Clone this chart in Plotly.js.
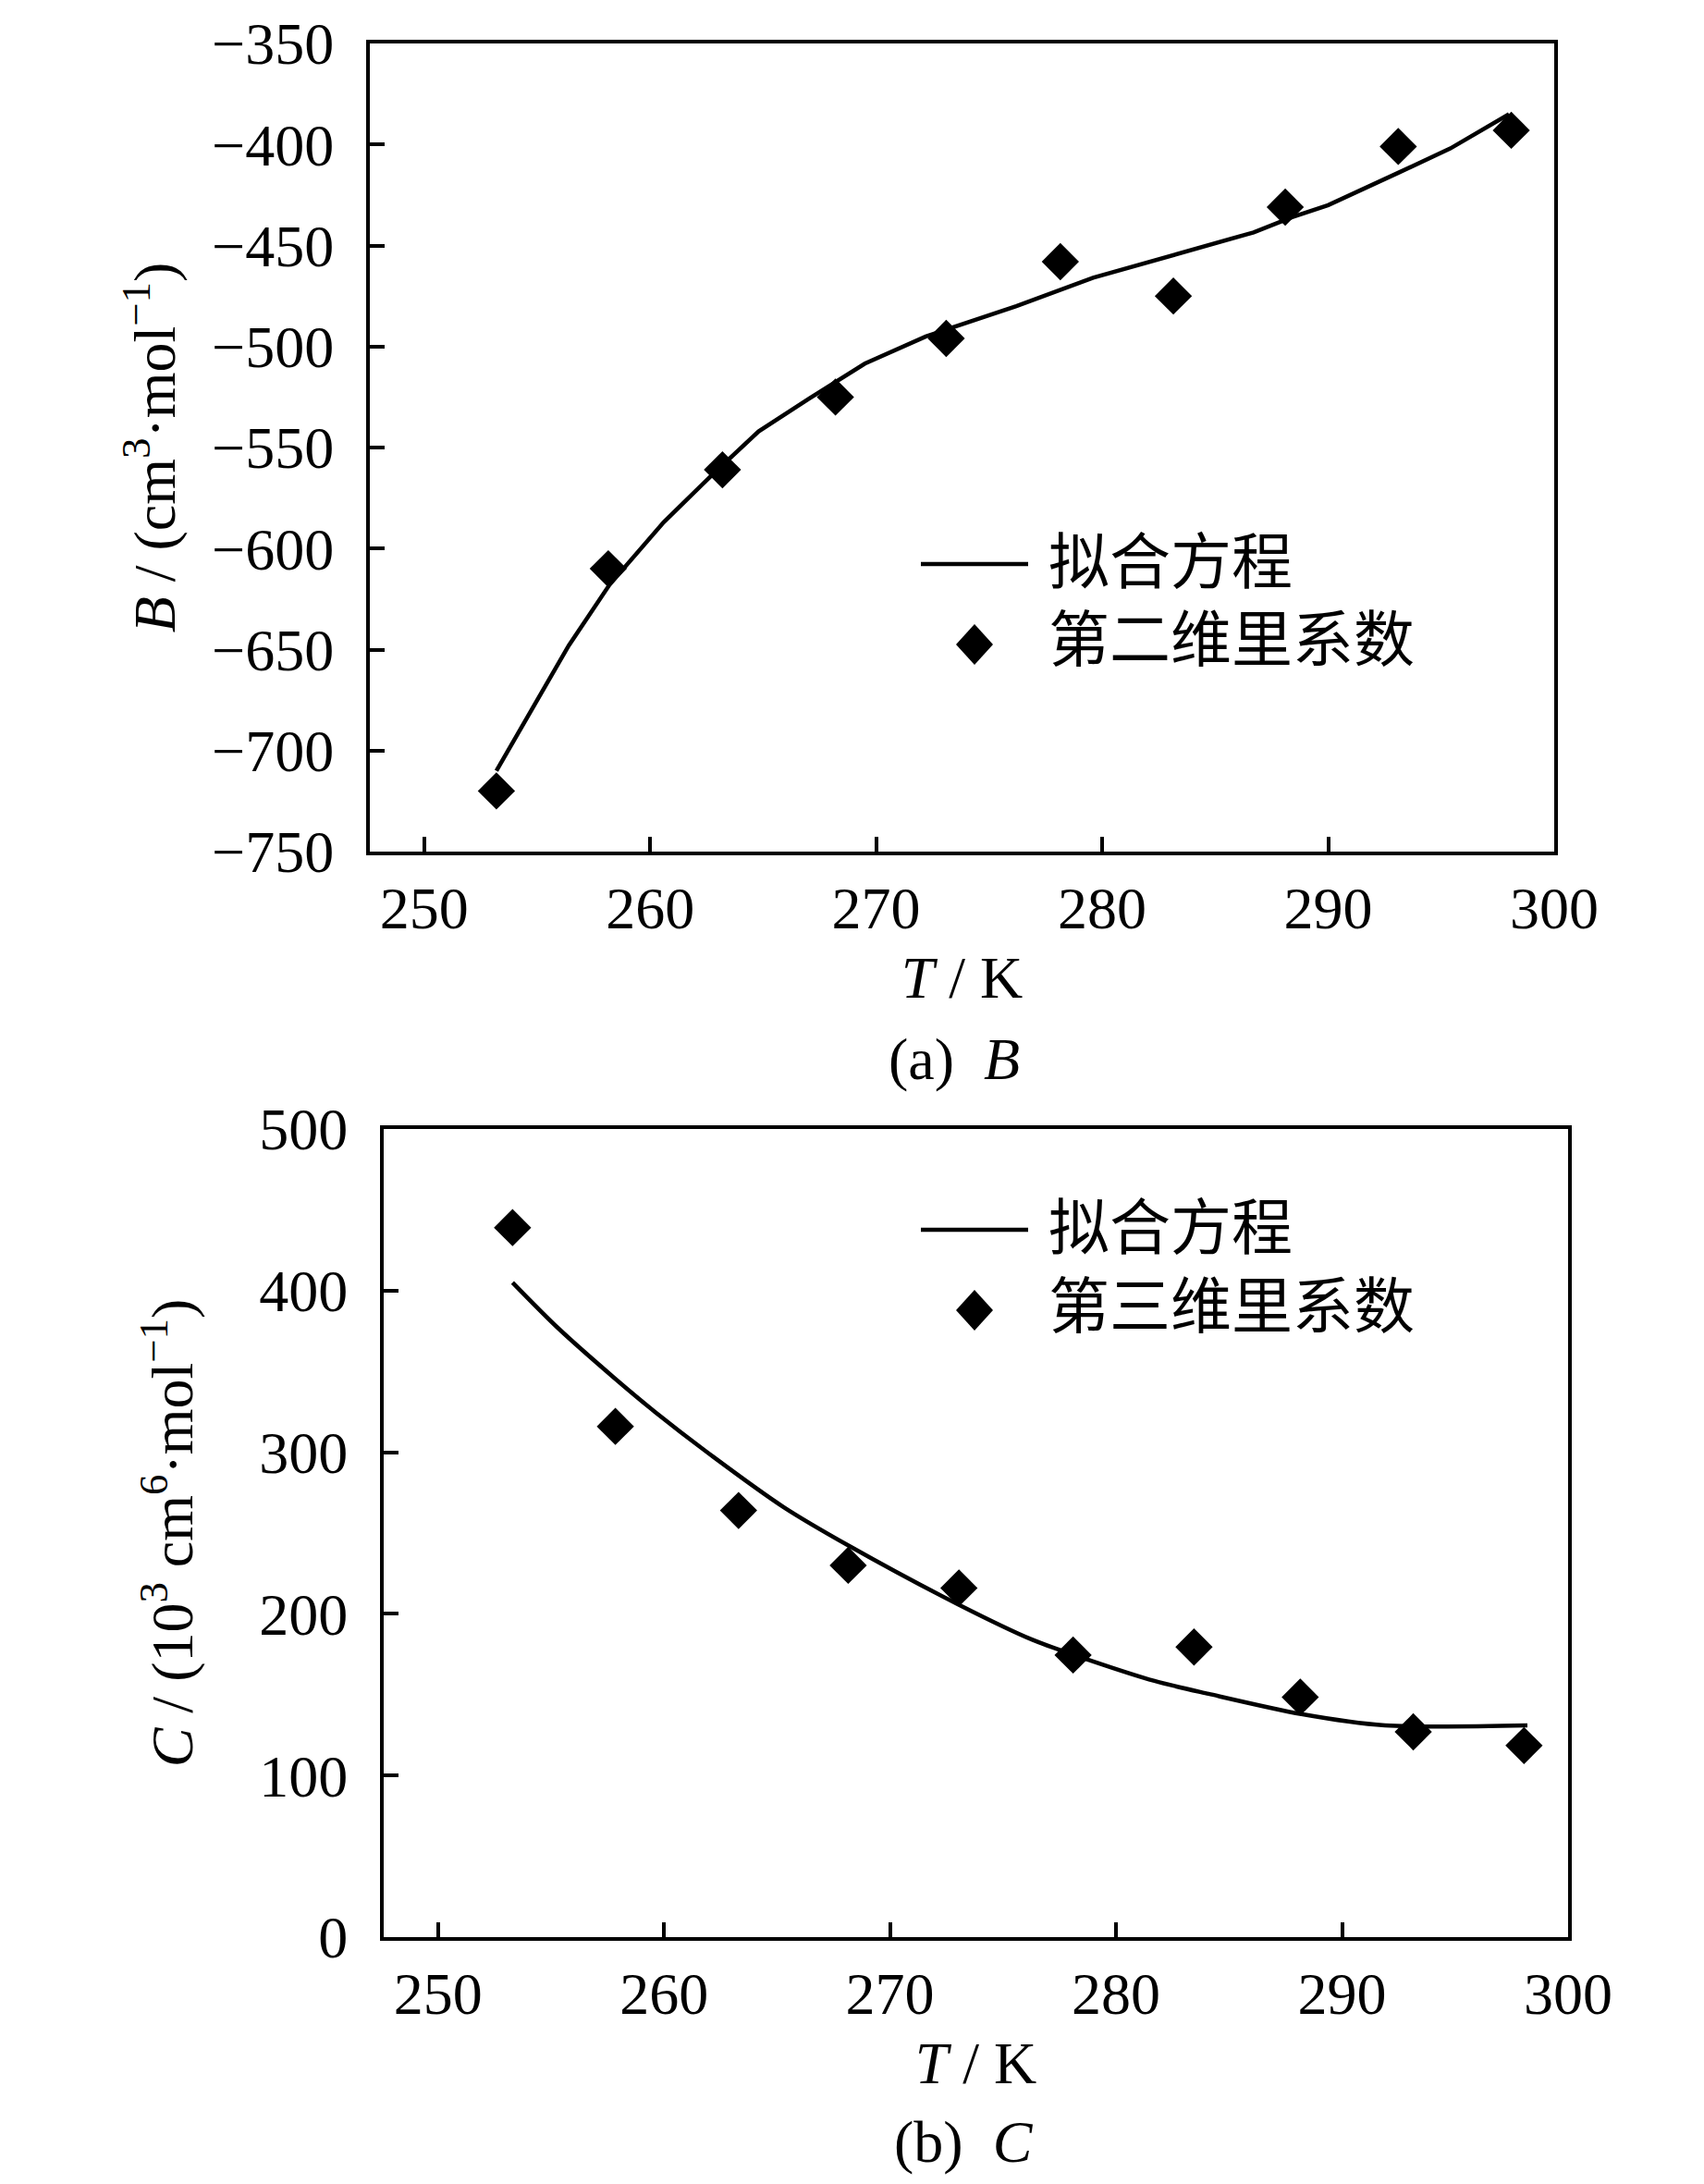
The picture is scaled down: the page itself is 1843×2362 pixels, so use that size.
<!DOCTYPE html>
<html>
<head>
<meta charset="utf-8">
<script src="https://cdn.plot.ly/plotly-3.0.1.min.js"></script>
<style>
  html, body { margin: 0; padding: 0; background: #fff; }
  #grafico { width: 1843px; height: 2362px; }
</style>
</head>
<body>
<div id="grafico"></div>
<script>
// (a) segundo coeficiente virial B
const tempB = [253.2, 258.15, 263.2, 268.2, 273.1, 278.15, 283.15, 288.1, 293.1, 298.1];
const virialB = [-720, -610, -561, -525, -496, -458, -475, -431, -401, -393];
const fitTempB = [253.2, 256.4, 258.2, 260.6, 262.7, 264.8, 267.0, 269.5, 272.2, 276.2, 279.6, 283.0, 286.7, 288.4, 290.0, 293.1, 295.4, 298.0];
const fitB = [-710, -648, -618, -587, -564, -542, -526, -508.5, -495, -480, -466, -455, -443.5, -436, -430, -414, -402, -385];

// (b) tercer coeficiente virial C
const tempC = [253.3, 257.85, 263.3, 268.15, 273.05, 278.1, 283.45, 288.15, 293.15, 298.05];
const virialC = [439, 316, 264, 230, 216, 174.5, 179.5, 148.5, 127, 118.5];
const fitTempC = [253.3, 255.3, 257.8, 259.6, 262.2, 265.3, 268.2, 273.0, 276.3, 278.9, 281.7, 284.1, 288.2, 291.9, 298.2];
const fitC = [405, 377, 346, 325, 297, 266, 242, 206, 184, 171, 158.5, 150.5, 138, 131, 131];

const ticksT = [250, 260, 270, 280, 290, 300];
const legendFit = '拟合方程';
const legendB = '第二维里系数';
const legendC = '第三维里系数';

const W = 1843, H = 2362;
const fuente = 'Liberation Serif, "Noto Sans CJK SC", serif';
const px = x => x / W;
const py = y => 1 - y / H;

const traces = [
    { x: fitTempB, y: fitB, type: 'scatter', mode: 'lines', line: { color: '#000', width: 4.5 }, xaxis: 'x', yaxis: 'y', showlegend: false },
    { x: tempB, y: virialB, type: 'scatter', mode: 'markers', marker: { symbol: 'diamond', size: 31, color: '#000' }, xaxis: 'x', yaxis: 'y', showlegend: false },
    { x: fitTempC, y: fitC, type: 'scatter', mode: 'lines', line: { color: '#000', width: 4.5, shape: 'spline', smoothing: 0.8 }, xaxis: 'x2', yaxis: 'y2', showlegend: false },
    { x: tempC, y: virialC, type: 'scatter', mode: 'markers', marker: { symbol: 'diamond', size: 31, color: '#000' }, xaxis: 'x2', yaxis: 'y2', showlegend: false }
];

// ejes comunes
function ejeX(dominio, ancla) {
    return {
        domain: dominio, anchor: ancla,
        range: [247.6, 300], tickvals: ticksT,
        showline: true, mirror: true, linecolor: '#000', linewidth: 4,
        ticks: 'inside', ticklen: 16, tickwidth: 4, tickcolor: '#000',
        ticklabelstandoff: 2,
        showgrid: false, zeroline: false,
        tickfont: { family: fuente, size: 64, color: '#000' },
        title: { text: '<i>T</i> / K', font: { family: fuente, size: 64, color: '#000' }, standoff: 18 }
    };
}
function ejeY(dominio, ancla, rango, paso, titulo, separacion) {
    return {
        domain: dominio, anchor: ancla,
        range: rango, dtick: paso, tick0: 0,
        showline: true, mirror: true, linecolor: '#000', linewidth: 4,
        ticks: 'inside', ticklen: 16, tickwidth: 4, tickcolor: '#000',
        ticklabelstandoff: 22,
        showgrid: false, zeroline: false,
        tickfont: { family: fuente, size: 64, color: '#000' },
        title: { text: titulo, font: { family: fuente, size: 64, color: '#000' }, standoff: separacion }
    };
}

// leyenda dibujada a mano: linea, rombo y textos
function leyenda(yLinea, yRombo, textoPuntos) {
    const shapes = [
        { type: 'line', xref: 'paper', yref: 'paper', x0: px(996), x1: px(1112), y0: py(yLinea), y1: py(yLinea), line: { color: '#000', width: 4.5 } },
        { type: 'path', xref: 'paper', yref: 'paper', xsizemode: 'pixel', ysizemode: 'pixel',
          xanchor: px(1054), yanchor: py(yRombo), path: 'M-20,0 L0,22 L20,0 L0,-22 Z',
          fillcolor: '#000', line: { color: '#000', width: 0 } }
    ];
    const anots = [
        { text: legendFit, xref: 'paper', yref: 'paper', x: px(1132), y: py(yLinea - 2), xanchor: 'left', yanchor: 'middle', showarrow: false, font: { family: fuente, size: 66, color: '#000' } },
        { text: textoPuntos, xref: 'paper', yref: 'paper', x: px(1132), y: py(yRombo - 4), xanchor: 'left', yanchor: 'middle', showarrow: false, font: { family: fuente, size: 66, color: '#000' } }
    ];
    return { shapes, anots };
}

const legA = leyenda(610, 697, legendB);
const legC = leyenda(1330, 1417, legendC);

const layout = {
    width: W, height: H, autosize: false,
    margin: { t: 0, b: 0, l: 0, r: 0 },
    paper_bgcolor: '#fff', plot_bgcolor: '#fff',
    showlegend: false,
    font: { family: fuente, color: '#000' },
    xaxis: ejeX([px(400), px(1681)], 'y'),
    yaxis: ejeY([py(921), py(47)], 'x', [-750, -350], 50, '<i>B</i> / (cm<sup>3</sup>·mol<sup>−1</sup>)', 20),
    xaxis2: ejeX([px(415), px(1696)], 'y2'),
    yaxis2: ejeY([py(2095), py(1221)], 'x2', [0, 500], 100, '<i>C</i> / (10<sup>3</sup> cm<sup>6</sup>·mol<sup>−1</sup>)', 52),
    shapes: legA.shapes.concat(legC.shapes),
    annotations: legA.anots.concat(legC.anots).concat([
        { text: '(a)  <i>B</i>', xref: 'paper', yref: 'paper', x: px(1032), y: py(1146), xanchor: 'center', yanchor: 'middle', showarrow: false, font: { family: fuente, size: 64, color: '#000' } },
        { text: '(b)  <i>C</i>', xref: 'paper', yref: 'paper', x: px(1042), y: py(2316), xanchor: 'center', yanchor: 'middle', showarrow: false, font: { family: fuente, size: 64, color: '#000' } }
    ])
};

Plotly.newPlot('grafico', traces, layout, { staticPlot: true });
</script>
</body>
</html>
